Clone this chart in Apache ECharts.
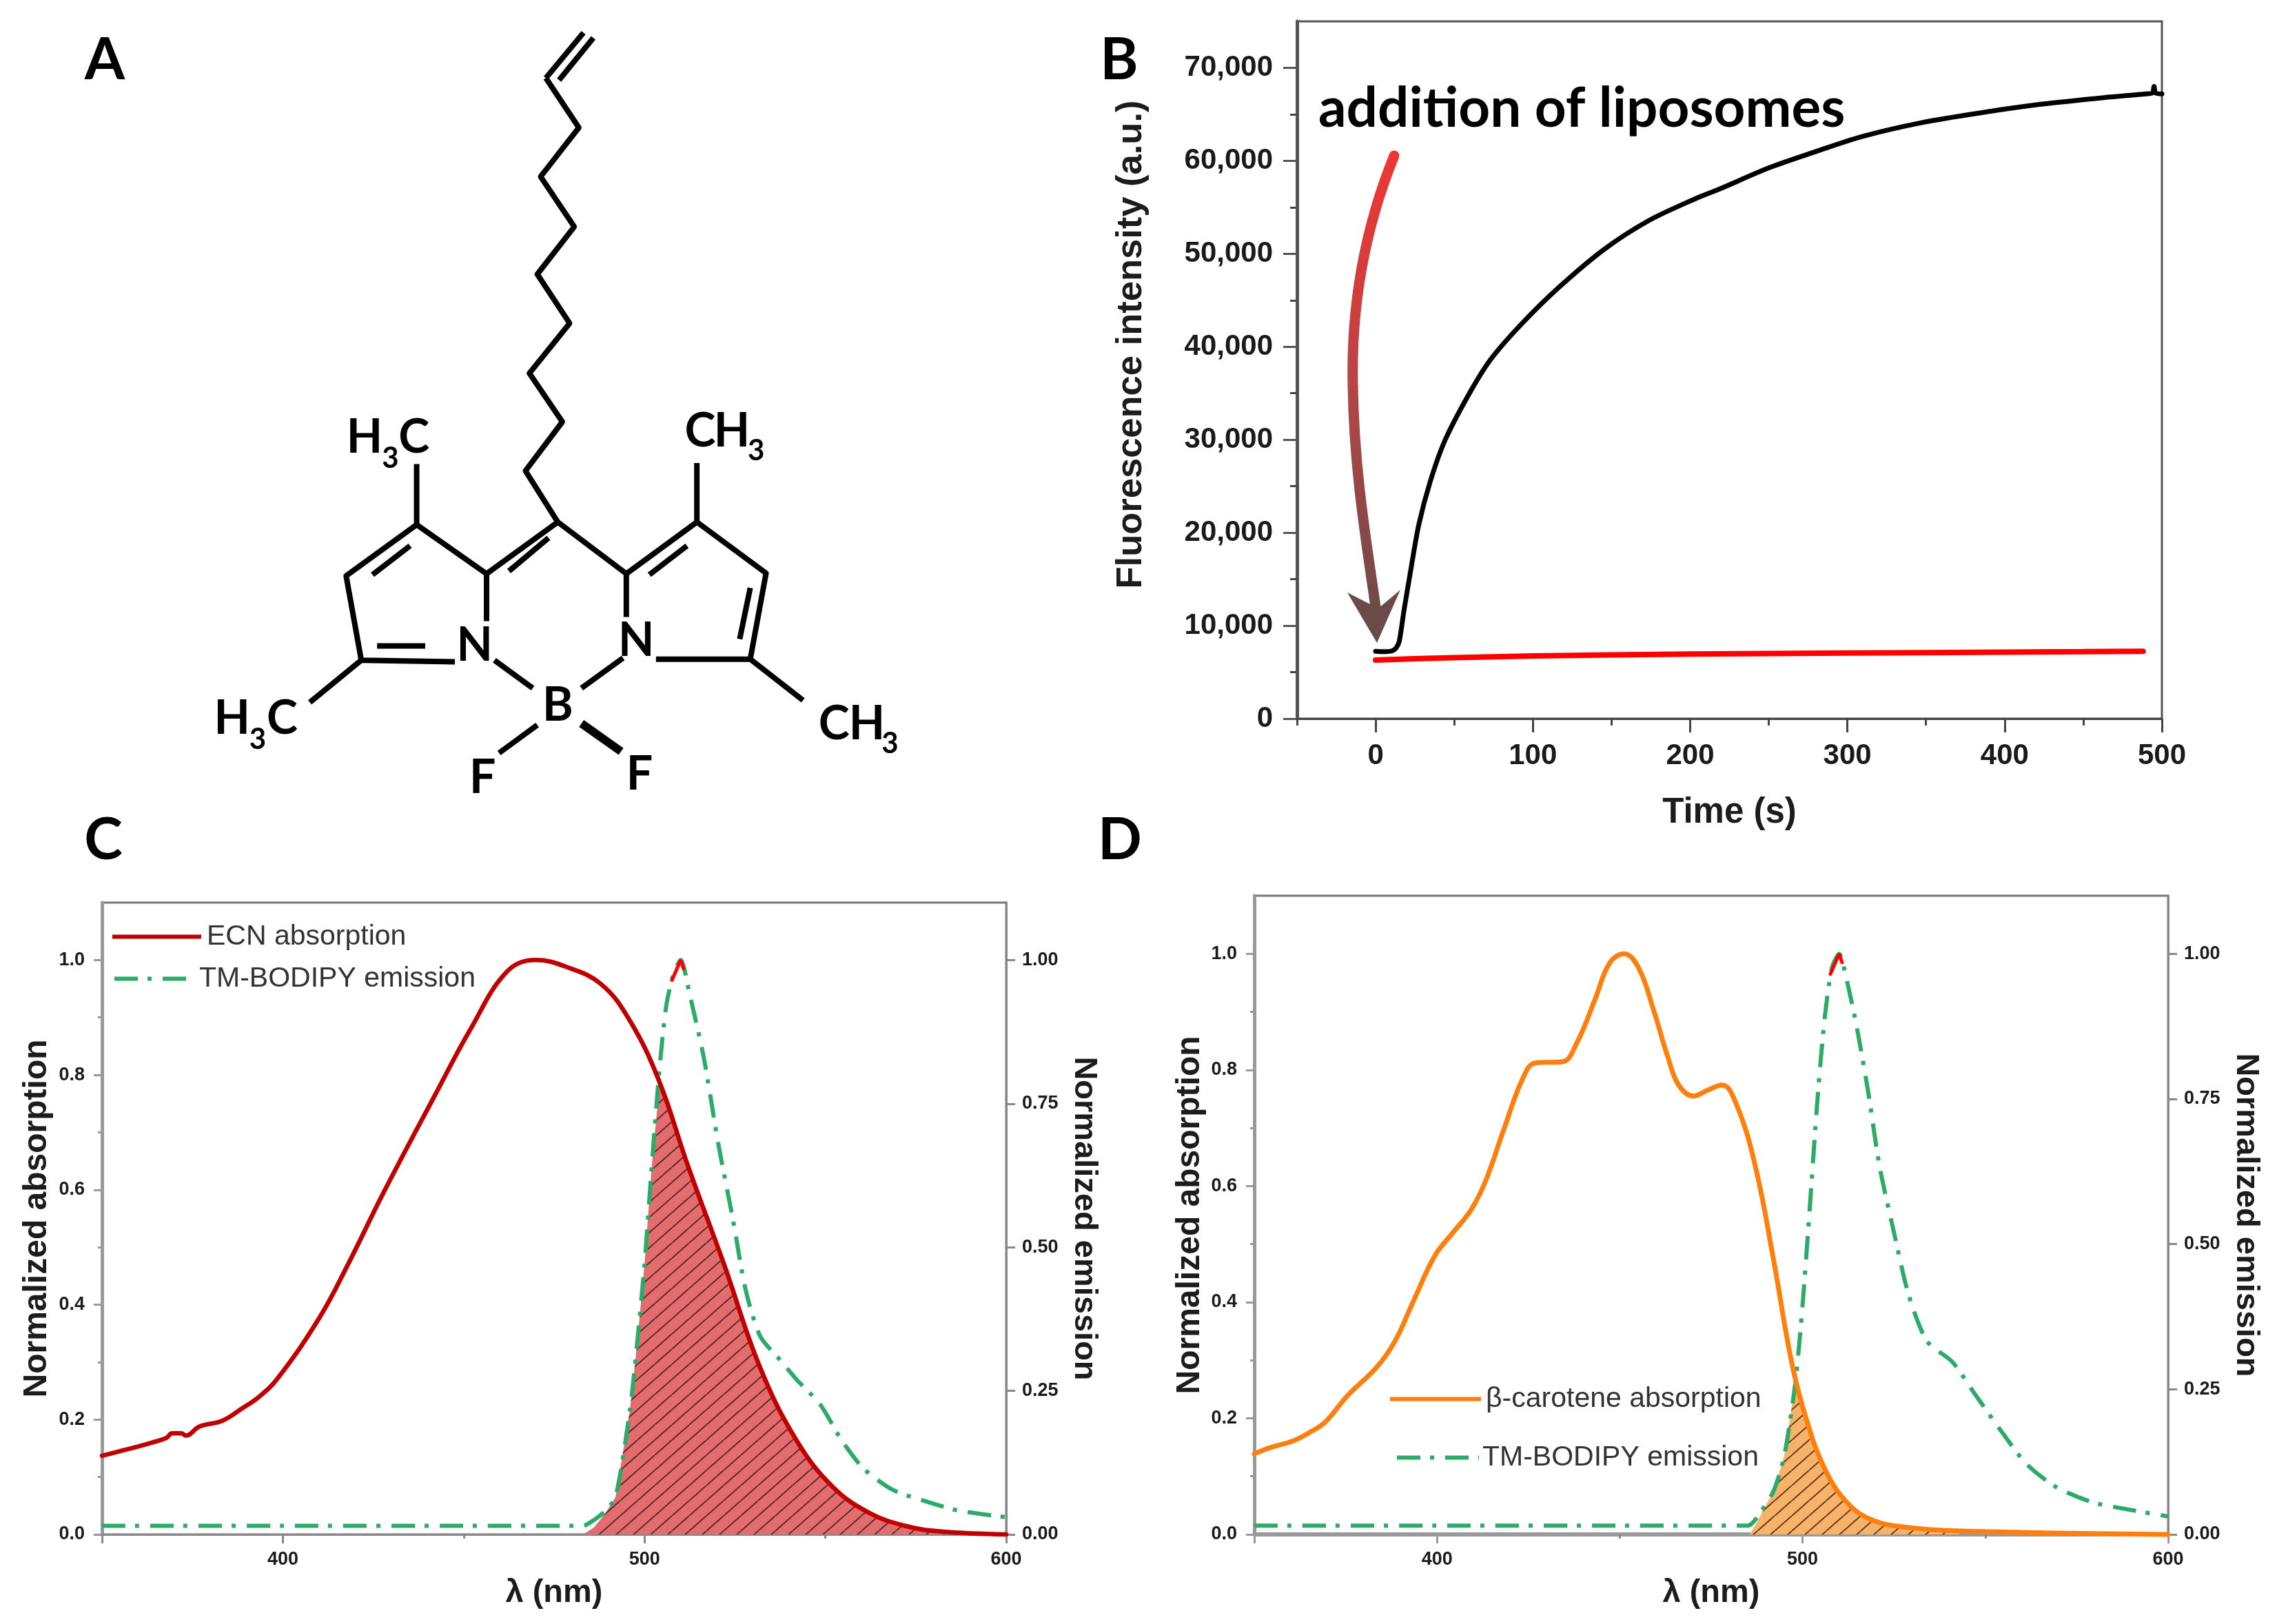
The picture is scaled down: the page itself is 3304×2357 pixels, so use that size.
<!DOCTYPE html>
<html>
<head>
<meta charset="utf-8">
<style>html,body{margin:0;padding:0;background:#fff}#chart{width:3304px;height:2357px}</style>
<script src="https://cdn.jsdelivr.net/npm/echarts@6/dist/echarts.min.js"></script>
</head>
<body>
<div id="chart"></div>
<script>
// ---------- Panel B data ----------
const blackTime = [0,5,10.6,13,15,18,22.6,27.5,34.7,44,59,73,92.5,116.6,145.5,174,203,217.7,251,280,309,347,386,424,463,490,494,495,496,500];
const blackFluor = [7250,7200,7300,7600,8300,11600,16250,20900,25500,29900,34800,38600,42400,46400,50500,53600,55900,56900,59300,61000,62600,64100,65200,66100,66800,67200,67300,68000,67300,67200];
const redTime = [0,25,50,100,150,200,250,300,350,400,450,488];
const redFluor = [6300,6450,6550,6750,6850,6950,7000,7050,7100,7150,7200,7250];
const bXMajor = [0,100,200,300,400,500];
const bXMinor = [-50,50,150,250,350,450];
const bYMajor = [0,10000,20000,30000,40000,50000,60000,70000];
const bYMinor = [5000,15000,25000,35000,45000,55000,65000];

// ---------- Panel C data ----------
const ecnWave = [350,355,360,365,367.8,369.4,371.9,373.2,377,383.3,388.4,393.5,398.6,410,418,428,442,452,462,470,478,488,496,504,512,522,532,542,552,562,572,582,600];
const ecnAbs = [.137,.145,.153,.162,.168,.176,.176,.172,.188,.198,.218,.24,.272,.376,.47,.597,.764,.881,.98,1,.989,.958,.894,.79,.642,.47,.29,.164,.083,.038,.015,.005,0];
const emCWave = [350,400,450,483,486,489,492,496,498,500,502,504,506,508,510,512.5,516.4,520.4,524.4,528,532,538,542,548.5,554.5,560.5,568.5,576.5,586.5,600];
const emCVal = [.015,.015,.015,.015,.025,.04,.065,.218,.335,.47,.64,.80,.92,.975,1,.94,.83,.68,.55,.425,.345,.30,.27,.227,.164,.115,.078,.06,.042,.03];
const tipCWave = [507.6,510,510.8];
const tipCVal = [.965,1,.985];
const overlapCWave = [483,486,489,492,496,498,500,502,504,505,512,522,532,542,552,562,572,582,592];
const overlapCVal = [0,.012,.035,.065,.218,.335,.47,.64,.775,.775,.642,.47,.29,.164,.083,.038,.015,.005,.001];

// ---------- Panel D data ----------
const caroWave = [350,354.6,360.6,365.5,369.5,375.5,383.5,388.5,393.4,399.4,404.4,409.4,413.3,418.3,423.3,426.9,434.3,438.2,443.2,447.2,451.2,455.2,459.2,463.1,466.1,470.1,474,478,482,487,492,497,501,506,512,519,529,543,600];
const caroAbs = [.139,.15,.161,.177,.194,.239,.288,.333,.40,.48,.52,.56,.609,.698,.783,.812,.814,.846,.921,.984,1,.975,.904,.823,.774,.755,.765,.774,.739,.636,.475,.297,.199,.114,.056,.025,.012,.006,0];
const emDWave = [350,400,450,485,487,492,495,498,500,502,504,506,508,510,512,515,518,521,525,529,534,541,547,554,561,569,579,589,600];
const emDVal = [.015,.015,.015,.015,.025,.074,.136,.26,.395,.565,.743,.886,.975,1,.957,.868,.76,.636,.52,.413,.333,.297,.243,.181,.123,.083,.056,.043,.031];
const tipDWave = [507.6,510,510.8];
const tipDVal = [.965,1,.985];
const overlapDWave = [485.5,487,492,495,498,499,501,506,512,519,529,543];
const overlapDVal = [0,.015,.074,.136,.26,.25,.199,.114,.056,.025,.012,.004];

// ---------- Shared axis tick lists ----------
const specXMajor = [350,400,500,600];
const specXLabels = [400,500,600];
const specXMinor = [450,550];
const absYMajor = [0,.2,.4,.6,.8,1];
const absYMinor = [.1,.3,.5,.7,.9];
const emYMajor = [0,.25,.5,.75,1];

const zip = (a,b) => a.map((v,i)=>[v,b[i]]);

const AXIS_FONT = 'Liberation Sans';
function hatch(base){
  const w=25,h=22,c=document.createElement('canvas');
  c.width=w;c.height=h;
  const g=c.getContext('2d');
  g.fillStyle=base;g.fillRect(0,0,w,h);
  g.strokeStyle='rgba(50,20,20,.78)';g.lineWidth=2;
  [[-w,h],[0,h],[w,h]].forEach(([ox,oy])=>{g.beginPath();g.moveTo(ox,oy);g.lineTo(ox+w,oy-h);g.stroke();});
  return {image:c,repeat:'repeat'};
}

function valAxis(o){
  return Object.assign({type:'value',splitLine:{show:false},axisLine:{onZero:false,show:true},
    axisTick:{show:true},axisLabel:{show:true}},o);
}
function labelled(gridIndex,position,min,max,ticks,labels,opt){
  const color=opt.color;
  return valAxis({gridIndex,position,min,max,
    name:opt.name,nameLocation:'middle',nameGap:opt.nameGap,nameRotate:opt.nameRotate,
    nameTextStyle:Object.assign({fontFamily:AXIS_FONT,fontWeight:'bold',fontSize:opt.nameSize,color:'#1c1c1c'},opt.nameExtra||{}),
    axisLine:{onZero:false,show:true,lineStyle:{color,width:opt.lineWidth}},
    axisTick:{show:true,customValues:ticks,length:opt.tick,lineStyle:{color,width:3}},
    axisLabel:{show:true,customValues:labels,margin:opt.margin,fontFamily:AXIS_FONT,fontWeight:'bold',fontSize:opt.labelSize,color:'#1a1a1a',formatter:opt.fmt,hideOverlap:false}
  });
}
function minor(gridIndex,position,min,max,ticks,color,len){
  return valAxis({gridIndex,position,min,max,axisLine:{onZero:false,show:false},
    axisTick:{show:true,customValues:ticks,length:len,lineStyle:{color,width:3}},
    axisLabel:{show:false}});
}

const grids=[
  {left:1882,top:31,width:1255,height:1012,show:true,borderColor:'#555',borderWidth:3,backgroundColor:'transparent'},
  {left:148,top:1310,width:1312,height:917,show:true,borderColor:'#777',borderWidth:3,backgroundColor:'transparent'},
  {left:1820,top:1300,width:1326,height:927,show:true,borderColor:'#777',borderWidth:3,backgroundColor:'transparent'}
];

const thousand=v=>String(v).replace(/\B(?=(\d{3})+$)/g,',');
const xAxes=[
  labelled(0,'bottom',-50,500,bXMajor,bXMajor,{color:'#444',name:'Time (s)',nameGap:111,nameSize:51,lineWidth:3,tick:20,margin:33,labelSize:42,fmt:v=>String(v)}),
  minor(0,'bottom',-50,500,bXMinor,'#444',10),
  labelled(1,'bottom',350,600,specXMajor,specXLabels,{color:'#888',name:'λ (nm)',nameGap:62,nameSize:47,lineWidth:3,tick:13,margin:23,labelSize:27,fmt:v=>String(v)}),
  minor(1,'bottom',350,600,specXMinor,'#888',6),
  labelled(2,'bottom',350,600,specXMajor,specXLabels,{color:'#999',name:'λ (nm)',nameGap:62,nameSize:47,lineWidth:6,tick:13,margin:23,labelSize:27,fmt:v=>String(v)}),
  minor(2,'bottom',350,600,specXMinor,'#888',6)
];
const fmt1=v=>v.toFixed(1), fmt2=v=>v.toFixed(2);
const yAxes=[
  labelled(0,'left',0,75000,bYMajor,bYMajor,{color:'#555',name:'Fluorescence intensity (a.u.)',nameGap:214,nameRotate:90,nameSize:52.5,nameExtra:{padding:[0,0,0,74]},lineWidth:5,tick:20,margin:35,labelSize:42,fmt:thousand}),
  minor(0,'left',0,75000,bYMinor,'#444',10),
  labelled(1,'left',0,1.1,absYMajor,absYMajor,{color:'#999',name:'Normalized absorption',nameGap:70,nameRotate:90,nameSize:48,lineWidth:5,tick:12,margin:25,labelSize:27,fmt:fmt1}),
  minor(1,'left',0,1.1,absYMinor,'#999',6),
  labelled(1,'right',0,1.1,emYMajor,emYMajor,{color:'#888',name:'Normalized emission',nameGap:89,nameRotate:-90,nameSize:47,lineWidth:3,tick:13,margin:23,labelSize:27,fmt:fmt2}),
  labelled(2,'left',0,1.1,absYMajor,absYMajor,{color:'#999',name:'Normalized absorption',nameGap:69,nameRotate:90,nameSize:48,lineWidth:5,tick:12,margin:25,labelSize:27,fmt:fmt1}),
  minor(2,'left',0,1.1,absYMinor,'#999',6),
  labelled(2,'right',0,1.1,emYMajor,emYMajor,{color:'#888',name:'Normalized emission',nameGap:89,nameRotate:-90,nameSize:47,lineWidth:3,tick:13,margin:23,labelSize:27,fmt:fmt2})
];
// indices: x: 0 B, 2 C, 4 D ; y: 0 B, 2 C-left, 4 C-right, 5 D-left, 7 D-right
const GREEN='#2BAA68', DASH=[34,14,6,16];
function line(name,xi,yi,data,color,width,extra){
  return Object.assign({name,type:'line',xAxisIndex:xi,yAxisIndex:yi,data,showSymbol:false,symbol:'none',
    smooth:.4,clip:false,animation:false,silent:true,
    lineStyle:{color,width,cap:'round'},itemStyle:{color}},extra||{});
}
const dashed={lineStyle:{color:GREEN,width:6,type:DASH,cap:'butt'},z:3,smooth:.25};
const series=[
  line('black trace',0,0,zip(blackTime,blackFluor),'#000',7,{z:4,smooth:.3}),
  line('red trace',0,0,zip(redTime,redFluor),'#FF0000',8,{z:4,smooth:false}),
  // C
  line('overlap C',2,2,zip(overlapCWave,overlapCVal),'#E36C6E',0,{z:1,smooth:false,lineStyle:{width:0,opacity:0},areaStyle:{color:hatch('#E36C6E'),opacity:1}}),
  line('TM-BODIPY emission',2,4,zip(emCWave,emCVal),GREEN,6,dashed),
  line('tip C',2,4,zip(tipCWave,tipCVal),'#FF0000',5,{z:5,smooth:false}),
  line('ECN absorption',2,2,zip(ecnWave,ecnAbs),'#C00000',6.5,{z:4}),
  // D
  line('overlap D',4,5,zip(overlapDWave,overlapDVal),'#F9B368',0,{z:1,smooth:false,lineStyle:{width:0,opacity:0},areaStyle:{color:hatch('#F9B368'),opacity:1}}),
  line('TM-BODIPY emission',4,7,zip(emDWave,emDVal),GREEN,6,dashed),
  line('tip D',4,7,zip(tipDWave,tipDVal),'#FF0000',5,{z:5,smooth:false}),
  line('β-carotene absorption',4,5,zip(caroWave,caroAbs),'#FF7F0E',7,{z:4})
];

function leg(name,left,top,w,pad,color,dash){
  return {show:true,data:[name],left,top,itemWidth:w,itemHeight:14,selectedMode:false,orient:'vertical',padding:0,
    itemStyle:{opacity:0,borderWidth:0},
    lineStyle:{color,width:6,type:dash,opacity:1,cap:'butt'},
    textStyle:{fontFamily:AXIS_FONT,fontSize:41,color:'#333',padding:[24,0,0,pad]}};
}
const legends=[
  leg('ECN absorption',160,1339,129,3,'#C00000','solid'),
  leg('TM-BODIPY emission',163,1400,118,0,GREEN,DASH),
  leg('β-carotene absorption',2014,2010,132,2,'#FF7F0E','solid'),
  leg('TM-BODIPY emission',2024,2095,119,0,GREEN,DASH)
];

// ---------- Panel A: chemical structure drawing ----------
const sx=1500/1568, sy=1200/1568;
const structureBonds=[
  [[828,148],[885,62]],[[848,152],[900,72]],
  [[828,148],[878,242],[820,335],[871,430],[815,520],[864,613],[803,708],[853,800],[797,893],[846,990]],
  [[846,990],[950,1088]],[[846,990],[738,1088]],[[832,1020],[772,1083]],
  [[738,1178],[738,1088],[632,995],[525,1092],[548,1252],[690,1255]],
  [[622,1035],[565,1090]],[[572,1225],[645,1225]],
  [[632,995],[632,880]],[[548,1252],[470,1332]],
  [[950,1170],[950,1088],[1057,990],[1162,1087],[1138,1250],[995,1250]],
  [[985,1090],[1042,1035]],[[1138,1115],[1122,1212]],
  [[1057,990],[1057,878]],[[1138,1250],[1218,1328]],
  [[750,1252],[808,1305]],[[945,1248],[882,1305]],[[815,1375],[757,1428]]
];
const structureLabels=[
  ['H',553,830,68],['3',592,869,42],['C',628,830,68],
  ['C',1062,818,68],['H',1110,818,68],['3',1147,855,42],
  ['H',352,1363,68],['3',391,1402,42],['C',428,1363,68],
  ['C',1265,1373,68],['H',1315,1373,68],['3',1350,1410,42],
  ['N',720,1225,68],['N',965,1215,68],['B',846,1338,68],['F',732,1475,68],['F',970,1469,68]
];
const panelLetters=[['A',152,88],['B',1624,88],['C',150,1220],['D',1625,1220]];
const graphic=[];
structureBonds.forEach(p=>graphic.push({type:'polyline',z:5,shape:{points:p.map(([x,y])=>[x*sx,y*sy])},
  style:{stroke:'#000',lineWidth:8,fill:null,lineJoin:'round',lineCap:'butt'}}));
graphic.push({type:'line',z:5,shape:{x1:882*sx,y1:1372*sy,x2:942*sx,y2:1425*sy},style:{stroke:'#000',lineWidth:12}});
structureLabels.forEach(([t,x,y,s])=>graphic.push({type:'text',z:6,style:{text:t,x:x*sx,y:y*sy,font:`bold ${s}px Lato`,fill:'#000',textAlign:'center',textVerticalAlign:'middle'}}));
panelLetters.forEach(([t,x,y])=>graphic.push({type:'text',z:6,style:{text:t,x,y,font:'bold 84px Lato',fill:'#000',textAlign:'center',textVerticalAlign:'middle'}}));
graphic.push({type:'text',z:6,style:{text:'addition of liposomes',x:1913,y:158,font:'bold 80px Lato',fill:'#000',textAlign:'left',textVerticalAlign:'middle'}});
// curved arrow
const grad=(a,b)=>({type:'linear',x:0,y:0,x2:0,y2:1,colorStops:[{offset:0,color:a},{offset:1,color:b}]});
graphic.push({type:'bezierCurve',z:6,shape:{x1:2023,y1:226,cpx1:1985,cpy1:320,cpx2:1960,cpy2:430,x2:1963,y2:560},
  style:{fill:null,lineWidth:15,lineCap:'round',stroke:grad('#F03535','#B84545')}});
graphic.push({type:'bezierCurve',z:6,shape:{x1:1963,y1:560,cpx1:1965,cpy1:690,cpx2:1985,cpy2:800,x2:1998,y2:895},
  style:{fill:null,lineWidth:15,lineCap:'butt',stroke:grad('#B84545','#6B4A4A')}});
graphic.push({type:'polygon',z:6,shape:{points:[[1955,860],[2000,883],[2032,856],[1998,933]]},style:{fill:'#6B4A4A'}});

const chart=echarts.init(document.getElementById('chart'),null,{renderer:'canvas'});
chart.setOption({animation:false,backgroundColor:'#fff',grid:grids,xAxis:xAxes,yAxis:yAxes,series,legend:legends,graphic:{elements:graphic}});
</script>
</body>
</html>
